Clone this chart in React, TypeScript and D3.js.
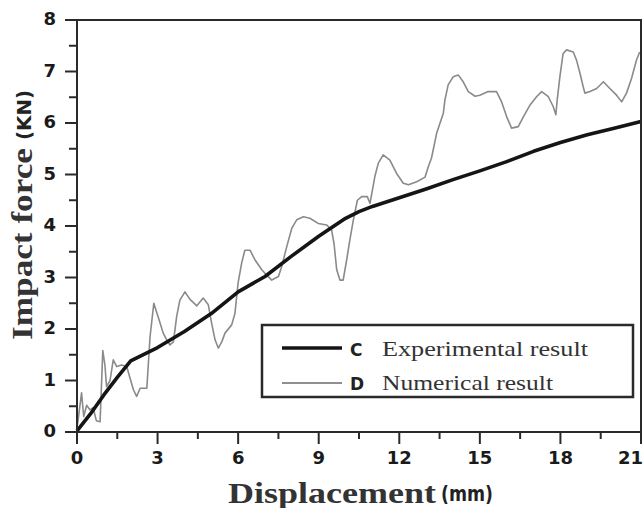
import React from "react";
import * as d3 from "d3";

const expX = [0, 0.5, 1, 1.5, 2, 3, 4, 5, 6, 7, 8, 9, 10, 10.5, 11, 12, 13, 14, 15, 16, 17, 18, 19, 20, 21];
const expY = [0.02, 0.35, 0.72, 1.06, 1.38, 1.64, 1.95, 2.3, 2.72, 3.02, 3.42, 3.8, 4.15, 4.28, 4.38, 4.55, 4.72, 4.9, 5.07, 5.25, 5.45, 5.62, 5.77, 5.9, 6.03];

const numX = [0.02, 0.17, 0.25, 0.36, 0.48, 0.6, 0.72, 0.86, 0.96, 1.04, 1.1, 1.23, 1.35, 1.48, 1.66, 1.85, 2.1, 2.22, 2.35, 2.6, 2.72, 2.86, 3.09, 3.21, 3.34, 3.46, 3.59, 3.71, 3.83, 4.02, 4.2, 4.46, 4.7, 4.89, 5.01, 5.14, 5.26, 5.39, 5.51, 5.76, 5.88, 6.0, 6.13, 6.25, 6.44, 6.63, 6.88, 7.06, 7.25, 7.5, 7.62, 7.81, 8.0, 8.18, 8.43, 8.67, 8.98, 9.3, 9.48, 9.57, 9.67, 9.79, 9.91, 10.04, 10.16, 10.29, 10.44, 10.6, 10.81, 10.91, 11.09, 11.22, 11.4, 11.65, 11.9, 12.15, 12.34, 12.65, 12.96, 13.08, 13.2, 13.39, 13.64, 13.7, 13.82, 14.01, 14.2, 14.38, 14.57, 14.82, 15.0, 15.31, 15.62, 15.81, 16.0, 16.18, 16.43, 16.62, 16.87, 17.11, 17.3, 17.55, 17.73, 17.83, 17.88, 17.98, 18.1, 18.23, 18.48, 18.6, 18.73, 18.85, 18.91, 19.1, 19.35, 19.6, 19.84, 20.09, 20.28, 20.46, 20.65, 20.83, 20.95];
const numY = [0.15, 0.76, 0.3, 0.52, 0.43, 0.47, 0.22, 0.2, 1.58, 1.3, 0.88, 1.0, 1.4, 1.27, 1.3, 1.27, 0.82, 0.69, 0.85, 0.85, 1.85, 2.5, 2.12, 1.92, 1.79, 1.69, 1.75, 2.24, 2.56, 2.72, 2.58, 2.45, 2.6, 2.47, 2.12, 1.79, 1.63, 1.75, 1.92, 2.08, 2.3, 2.9, 3.28, 3.53, 3.53, 3.34, 3.15, 3.05, 2.95, 3.02, 3.21, 3.6, 3.96, 4.12, 4.18, 4.15, 4.05, 4.02, 3.92, 3.66, 3.15, 2.95, 2.95, 3.34, 3.73, 4.12, 4.5, 4.57, 4.57, 4.44, 4.96, 5.22, 5.38, 5.28, 5.02, 4.83, 4.8, 4.86, 4.95, 5.15, 5.32, 5.8, 6.19, 6.45, 6.74, 6.9, 6.93, 6.8, 6.61, 6.52, 6.54, 6.61, 6.61, 6.41, 6.12, 5.9, 5.93, 6.12, 6.35, 6.51, 6.61, 6.51, 6.32, 6.16, 6.45, 6.9, 7.35, 7.42, 7.38, 7.22, 6.96, 6.7, 6.58, 6.61, 6.67, 6.8, 6.67, 6.54, 6.41, 6.58, 6.87, 7.22, 7.38];

const xMajor = [0, 3, 6, 9, 12, 15, 18, 21];
const xMinor = [1.5, 4.5, 7.5, 10.5, 13.5, 16.5, 19.5];
const yMajor = [0, 1, 2, 3, 4, 5, 6, 7, 8];
const yMinor = [0.5, 1.5, 2.5, 3.5, 4.5, 5.5, 6.5, 7.5];

const legendLabels = ["Experimental result", "Numerical result"];
const legendKeys = ["C", "D"];

export default function App() {
  const W = 644, H = 508;
  const x = d3.scaleLinear().domain([0, 21]).range([77, 641]);
  const y = d3.scaleLinear().domain([0, 8]).range([432, 20]);
  const line = d3.line<[number, number]>().x(d => x(d[0])).y(d => y(d[1]));
  const expPts = expX.map((v, i) => [v, expY[i]] as [number, number]);
  const numPts = numX.map((v, i) => [v, numY[i]] as [number, number]);
  const axisColor = "#2a2a2a";
  const tickFont = "'DejaVu Sans', sans-serif";
  const serif = "'Liberation Serif', 'Times New Roman', serif";
  const lastTick = xMajor[xMajor.length - 1];
  return (
    <svg width={W} height={H} style={{ position: "absolute", left: 0, top: 0, background: "#fff" }}>
      <rect x={0} y={0} width={W} height={H} fill="#fff" />
      {/* data lines */}
      <path d={line(numPts) || ""} fill="none" stroke="#8a8a8a" strokeWidth={1.6} strokeLinejoin="round" />
      <path d={line(expPts) || ""} fill="none" stroke="#151515" strokeWidth={3.6} strokeLinejoin="round" />
      {/* frame */}
      <rect x={x(0)} y={y(8)} width={x(21) - x(0)} height={y(0) - y(8)} fill="none" stroke={axisColor} strokeWidth={2} />
      {/* y ticks */}
      {yMajor.map(v => (
        <line key={"ym" + v} x1={x(0) - 12} x2={x(0)} y1={y(v)} y2={y(v)} stroke={axisColor} strokeWidth={2} />
      ))}
      {yMinor.map(v => (
        <line key={"yn" + v} x1={x(0) - 8} x2={x(0)} y1={y(v)} y2={y(v)} stroke={axisColor} strokeWidth={2} />
      ))}
      {yMajor.map(v => (
        <text key={"yl" + v} x={56} y={y(v) - 1} dy="0.36em" textAnchor="end" fontFamily={tickFont} fontWeight="bold" fontSize={18} fill="#1a1a1a">{v}</text>
      ))}
      {/* x ticks */}
      {xMajor.map(v => (
        <line key={"xm" + v} x1={x(v)} x2={x(v)} y1={y(0)} y2={y(0) + 12} stroke={axisColor} strokeWidth={2} />
      ))}
      {xMinor.map(v => (
        <line key={"xn" + v} x1={x(v)} x2={x(v)} y1={y(0)} y2={y(0) + 7} stroke={axisColor} strokeWidth={2} />
      ))}
      {xMajor.map(v => (
        <text key={"xl" + v} x={v === lastTick ? W - 1 : x(v)} y={464} textAnchor={v === lastTick ? "end" : "middle"} fontFamily={tickFont} fontWeight="bold" fontSize={18} fill="#1a1a1a">{v}</text>
      ))}
      {/* axis titles */}
      <text x={228} y={503} fontFamily={serif} fontWeight="bold" fontSize={29} fill="#333" textLength={208} lengthAdjust="spacingAndGlyphs">Displacement</text>
      <text x={441} y={501} fontFamily={tickFont} fontWeight="bold" fontSize={22} fill="#222" textLength={52} lengthAdjust="spacingAndGlyphs">(mm)</text>
      <g transform="translate(32,340) rotate(-90)">
        <text x={0} y={0} fontFamily={serif} fontWeight="bold" fontSize={29} fill="#333" textLength={192} lengthAdjust="spacingAndGlyphs">Impact force</text>
        <text x={200} y={-1} fontFamily={tickFont} fontWeight="bold" fontSize={19} fill="#222" textLength={50} lengthAdjust="spacingAndGlyphs">(KN)</text>
      </g>
      {/* legend */}
      <rect x={262} y={325} width={371} height={72} fill="#fff" stroke="#2a2a2a" strokeWidth={2.5} />
      <line x1={282} x2={342} y1={348} y2={348} stroke="#151515" strokeWidth={3.6} />
      <line x1={282} x2={342} y1={383} y2={383} stroke="#6a6a6a" strokeWidth={1.4} />
      <text x={350} y={356} fontFamily={tickFont} fontWeight="bold" fontSize={17} fill="#222">{legendKeys[0]}</text>
      <text x={350} y={390} fontFamily={tickFont} fontWeight="bold" fontSize={17} fill="#222">{legendKeys[1]}</text>
      <text x={382} y={356} fontFamily={serif} fontSize={22} fill="#333" textLength={206} lengthAdjust="spacingAndGlyphs">{legendLabels[0]}</text>
      <text x={382} y={390} fontFamily={serif} fontSize={22} fill="#333" textLength={171} lengthAdjust="spacingAndGlyphs">{legendLabels[1]}</text>
    </svg>
  );
}
